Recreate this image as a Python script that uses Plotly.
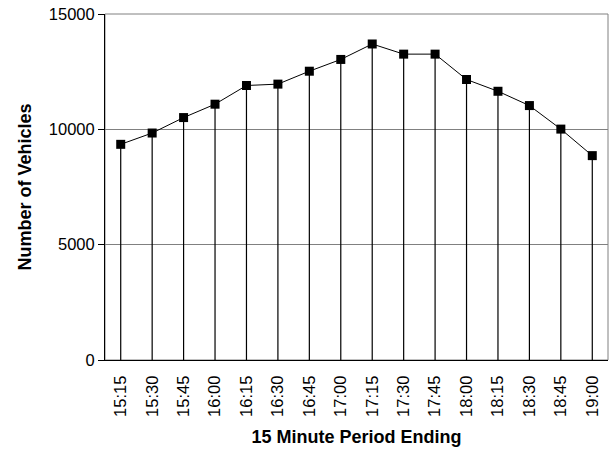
import plotly.graph_objects as go

periods = ["15:15", "15:30", "15:45", "16:00", "16:15", "16:30", "16:45", "17:00",
           "17:15", "17:30", "17:45", "18:00", "18:15", "18:30", "18:45", "19:00"]
vehicles = [9350, 9840, 10510, 11090, 11900, 11960, 12520, 13030,
            13700, 13260, 13260, 12160, 11650, 11030, 10010, 8860]
y_ticks = [0, 5000, 10000, 15000]
y_tick_labels = ["0", "5000", "10000", "15000"]

FONT = "Liberation Sans, Arial, sans-serif"

fig = go.Figure()
fig.add_trace(go.Scatter(
    x=periods, y=vehicles, mode="lines+markers",
    line=dict(color="black", width=1),
    marker=dict(symbol="square", size=9, color="black"),
    error_y=dict(type="data", symmetric=False, array=[0] * len(vehicles),
                 arrayminus=vehicles, width=0, color="black", thickness=1.2),
    showlegend=False, cliponaxis=False, hoverinfo="skip",
))

fig.update_layout(
    width=610, height=450,
    margin=dict(l=105, r=2, t=14, b=90),
    paper_bgcolor="white", plot_bgcolor="white",
    font=dict(family=FONT, size=16, color="black"),
    shapes=[dict(type="rect", xref="paper", yref="paper", x0=0, x1=1, y0=0, y1=1,
                 line=dict(color="#808080", width=1), layer="below")],
)
fig.update_xaxes(
    type="category", range=[-0.5, len(periods) - 0.5], automargin=False,
    tickangle=-90, ticks="", showgrid=False, ticklabelstandoff=8,
    showline=True, linecolor="black", linewidth=1,
    title=dict(text="<b>15 Minute Period Ending</b>", font=dict(size=18), standoff=14),
    tickfont=dict(size=16.5),
)
fig.update_yaxes(
    range=[0, 15000], tickvals=y_ticks, ticktext=y_tick_labels, automargin=False,
    ticks="outside", ticklen=6,
    tickcolor="black", showgrid=True, gridcolor="#808080", gridwidth=1,
    showline=True, linecolor="black", linewidth=1, zeroline=False,
    title=dict(text="<b>Number of Vehicles</b>", font=dict(size=18), standoff=12),
    tickfont=dict(size=16.5),
)

fig.write_html("out.html", config={"displayModeBar": False},
               post_script="document.body.style.margin='0';")
